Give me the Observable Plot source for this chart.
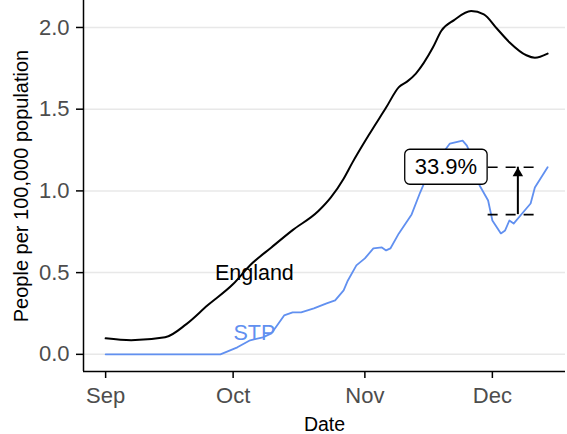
<!DOCTYPE html>
<html><head><meta charset="utf-8">
<script src="https://cdn.jsdelivr.net/npm/d3@7"></script>
<script src="https://cdn.jsdelivr.net/npm/@observablehq/plot@0.6"></script>
<style>body{margin:0;background:#fff} svg{display:block}</style>
</head><body><div id="chart"></div>
<script>
// England series (people per 100,000 population)
const englandDates = ["2020-09-01","2020-09-07","2020-09-15","2020-09-20","2020-09-25","2020-10-01","2020-10-05","2020-10-10","2020-10-15","2020-10-21","2020-10-24","2020-10-27","2020-10-29","2020-11-02","2020-11-06","2020-11-09","2020-11-11","2020-11-13","2020-11-17","2020-11-19","2020-11-22","2020-11-26","2020-11-29","2020-12-02","2020-12-05","2020-12-09","2020-12-11","2020-12-14"];
const englandValues = [0.098,0.086,0.104,0.185,0.30,0.43,0.545,0.654,0.76,0.875,0.96,1.075,1.17,1.345,1.51,1.635,1.67,1.718,1.877,1.98,2.045,2.10,2.08,1.995,1.91,1.83,1.815,1.84];
// STP series
const stpDates = ["2020-09-01","2020-09-28","2020-10-02","2020-10-05","2020-10-08","2020-10-10","2020-10-13","2020-10-15","2020-10-17","2020-10-20","2020-10-23","2020-10-25","2020-10-27","2020-10-28","2020-10-30","2020-11-01","2020-11-03","2020-11-05","2020-11-06","2020-11-07","2020-11-09","2020-11-12","2020-11-14","2020-11-15","2020-11-18","2020-11-21","2020-11-24","2020-11-25","2020-11-27","2020-11-28","2020-11-30","2020-12-01","2020-12-03","2020-12-04","2020-12-05","2020-12-06","2020-12-08","2020-12-10","2020-12-11","2020-12-14"];
const stpValues = [0,0,0.043,0.086,0.104,0.128,0.238,0.257,0.257,0.281,0.312,0.33,0.391,0.452,0.544,0.587,0.648,0.654,0.636,0.648,0.74,0.856,0.99,1.05,1.185,1.29,1.308,1.277,1.16,1.033,0.941,0.819,0.74,0.758,0.819,0.80,0.862,0.923,1.021,1.145];

const xTickDates = ["2020-09-01","2020-10-01","2020-11-01","2020-12-01"];
const xTickLabels = ["Sep","Oct","Nov","Dec"];
const yTicks = [0, 0.5, 1, 1.5, 2];
const xDomain = ["2020-08-26T19:00Z","2020-12-18T05:00Z"];
const yDomain = [-0.105, 2.165];

const seriesNames = ["England","STP"];
const seriesColors = ["#000000","#6190f0"];
const seriesLabelDates = ["2020-10-06","2020-10-06"];
const seriesLabelValues = [0.50, 0.13];

const changeLow = 0.855, changeHigh = 1.145;
const changeText = "33.9%";
const changeStart = "2020-11-30", changeEnd = "2020-12-12", changeArrowDate = "2020-12-07";

const parse = s => new Date(s);
const england = englandDates.map((d,i) => ({date: parse(d), value: englandValues[i]}));
const stp = stpDates.map((d,i) => ({date: parse(d), value: stpValues[i]}));
const seriesLabels = seriesNames.map((n,i) => ({name: n, color: seriesColors[i], date: parse(seriesLabelDates[i]), value: seriesLabelValues[i]}));
const tickDates = xTickDates.map(parse);
const xd = xDomain.map(parse);

const font = "'Liberation Sans', Arial, Helvetica, sans-serif";

const svg = Plot.plot({
  width: 567, height: 434,
  marginLeft: 83, marginRight: 2, marginTop: 0, marginBottom: 63,
  style: {fontFamily: font, background: "#fff", color: "black", overflow: "visible"},
  x: {type: "utc", domain: xd, label: null},
  y: {domain: yDomain, label: null},
  marks: [
    Plot.gridY(yTicks, {stroke: "#e8e8e8", strokeOpacity: 1, strokeWidth: 1.5}),
    Plot.ruleX([xd[0]], {stroke: "black", strokeWidth: 1.5}),
    Plot.ruleY([yDomain[0]], {stroke: "black", strokeWidth: 1.5}),
    Plot.axisY(yTicks, {tickSize: 7, tickFormat: () => "", stroke: "black", strokeWidth: 1.5, label: null}),
    Plot.axisY(yTicks, {tickSize: 0, tickPadding: 14, tickFormat: d3.format(".1f"), fontSize: 22, color: "#4d4d4d", label: null}),
    Plot.axisX(tickDates, {tickSize: 7, tickFormat: () => "", stroke: "black", strokeWidth: 1.5, label: null}),
    Plot.axisX(tickDates, {tickSize: 0, tickPadding: 16, tickFormat: d => xTickLabels[xTickDates.findIndex(s => +parse(s) === +d)], fontSize: 22, color: "#4d4d4d", label: null}),
    Plot.text(["Date"], {frameAnchor: "bottom", dy: 59, fontSize: 19.5, fill: "black"}),
    Plot.text(["People per 100,000 population"], {frameAnchor: "left", textAnchor: "middle", dx: -62, rotate: -90, fontSize: 20, fill: "black"}),
    Plot.line(england, {x: "date", y: "value", stroke: seriesColors[0], strokeWidth: 2, curve: "monotone-x"}),
    Plot.line(stp, {x: "date", y: "value", stroke: seriesColors[1], strokeWidth: 1.8}),
    Plot.text(seriesLabels, {x: "date", y: "value", text: "name", fill: "color", fontSize: 21.5}),
    Plot.ruleY([changeHigh, changeLow], {x1: parse(changeStart), x2: parse(changeEnd), stroke: "black", strokeWidth: 1.6, strokeDasharray: "10,8"}),
    Plot.ruleX([parse(changeArrowDate)], {y1: changeLow, y2: changeHigh, stroke: "black", strokeWidth: 2}),
    Plot.dot([{d: parse(changeArrowDate), v: changeHigh}], {x: "d", y: "v", symbol: "triangle", r: 3.9, dy: 6, fill: "black", stroke: "none"}),
    Plot.text([{d: parse(changeStart), v: changeHigh, label: changeText}], {x: "d", y: "v", text: "label", textAnchor: "end", dx: -11, fontSize: 22, fill: "black"})
  ]
});
document.getElementById("chart").append(svg);

// rounded label box behind the percentage text (geom_label style)
const t = Array.from(svg.querySelectorAll("text")).find(e => e.textContent === changeText);
if (t) {
  const bb = t.getBBox();
  const padX = 10, h = 35;
  const cy = bb.y + bb.height / 2;
  const r = document.createElementNS("http://www.w3.org/2000/svg", "rect");
  r.setAttribute("x", bb.x - padX);
  r.setAttribute("y", cy - h / 2);
  r.setAttribute("width", bb.width + 2 * padX);
  r.setAttribute("height", h);
  r.setAttribute("rx", 5);
  r.setAttribute("fill", "white");
  r.setAttribute("stroke", "black");
  r.setAttribute("stroke-width", 1.3);
  if (t.getAttribute("transform")) r.setAttribute("transform", t.getAttribute("transform"));
  t.parentNode.insertBefore(r, t);
}
</script>
</body></html>
